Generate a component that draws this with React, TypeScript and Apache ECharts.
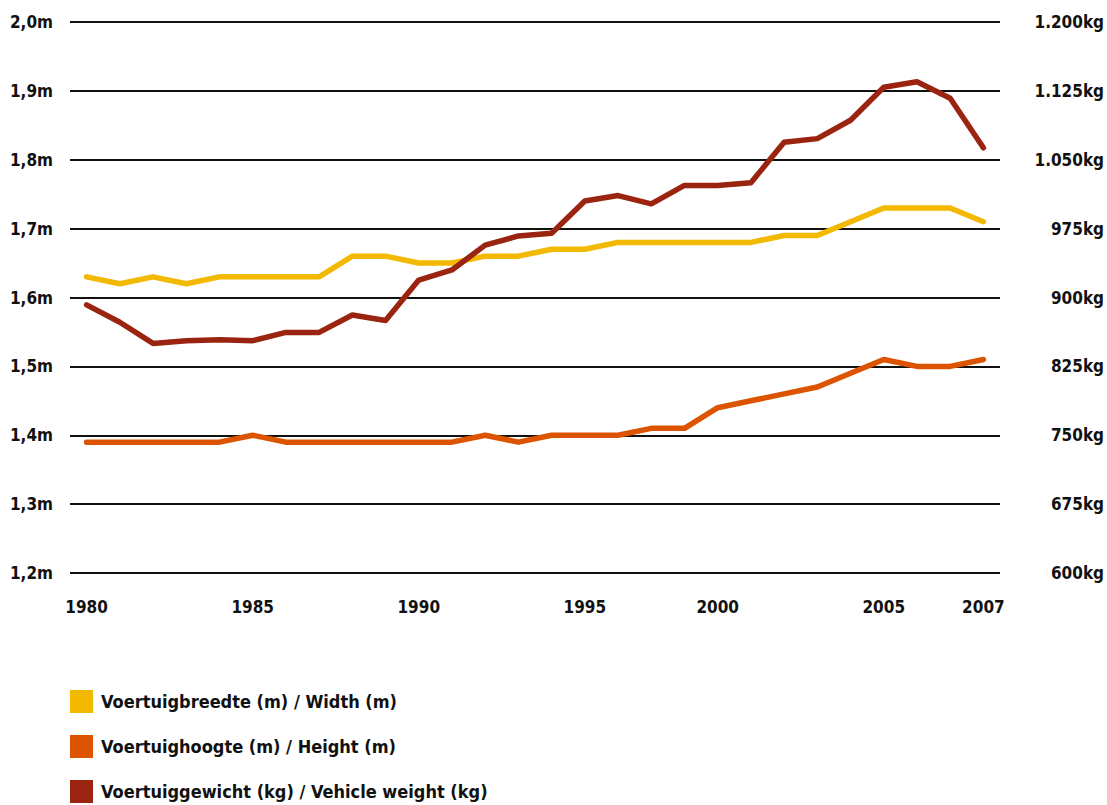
import React, { useEffect, useRef } from "react";
import * as echarts from "echarts";

const tickLabels = [
  "1980", "", "", "", "", "1985", "", "", "", "", "1990", "", "", "", "",
  "1995", "", "", "", "2000", "", "", "", "", "2005", "", "", "2007",
];

const widthM = [
  1.63, 1.62, 1.63, 1.62, 1.63, 1.63, 1.63, 1.63, 1.66, 1.66, 1.65, 1.65, 1.66, 1.66,
  1.67, 1.67, 1.68, 1.68, 1.68, 1.68, 1.68, 1.69, 1.69, 1.71, 1.73, 1.73, 1.73, 1.71,
];

const heightM = [
  1.39, 1.39, 1.39, 1.39, 1.39, 1.40, 1.39, 1.39, 1.39, 1.39, 1.39, 1.39, 1.40, 1.39,
  1.40, 1.40, 1.40, 1.41, 1.41, 1.44, 1.45, 1.46, 1.47, 1.49, 1.51, 1.50, 1.50, 1.51,
];

const weightKg = [
  892, 873, 850, 853, 854, 853, 862, 862, 881, 875, 919, 930, 957, 967,
  970, 1005, 1011, 1002, 1022, 1022, 1025, 1069, 1073, 1093, 1129, 1135, 1117, 1063,
];

const seriesNames = [
  "Voertuigbreedte (m) / Width (m)",
  "Voertuighoogte (m) / Height (m)",
  "Voertuiggewicht (kg) / Vehicle weight (kg)",
];

const colors = ["#F3B800", "#DC5400", "#9A2410"];

const FONT = "'DejaVu Sans Condensed', 'Liberation Sans Narrow', 'DejaVu Sans', sans-serif";

function fmtKg(v: number): string {
  const s = String(Math.round(v));
  return s.replace(/\B(?=(\d{3})+(?!\d))/g, ".") + "kg";
}

export default function App() {
  const ref = useRef<HTMLDivElement>(null);
  useEffect(() => {
    if (!ref.current) return;
    const chart = echarts.init(ref.current, null, { renderer: "svg" });
    const lineStyle = (c: string) => ({ color: c, width: 5.5, cap: "round" as const, join: "round" as const });
    const axisFont = { fontFamily: FONT, fontSize: 17, fontWeight: "bold" as const, color: "#111" };
    chart.setOption({
      animation: false,
      backgroundColor: "#ffffff",
      textStyle: { fontFamily: FONT },
      grid: { left: 70, right: 106, top: 22, bottom: 232, containLabel: false },
      legend: {
        orient: "vertical",
        left: 70,
        top: 690,
        height: 115,
        padding: 0,
        itemWidth: 23,
        itemHeight: 23,
        itemGap: 22,
        icon: "rect",
        selectedMode: false,
        data: seriesNames.map((n, i) => ({ name: n, itemStyle: { color: colors[i] } })),
        textStyle: { fontFamily: FONT, fontSize: 18, fontWeight: "bold", color: "#111", padding: [0, 0, 0, 3] },
      },
      xAxis: {
        type: "category",
        data: tickLabels,
        boundaryGap: true,
        axisLine: { show: false },
        axisTick: { show: false },
        axisLabel: { interval: 0, margin: 25, ...axisFont },
        splitLine: { show: false },
      },
      yAxis: [
        {
          type: "value",
          min: 1.2,
          max: 2.0,
          interval: 0.1,
          axisLine: { show: false },
          axisTick: { show: false },
          axisLabel: {
            margin: 17,
            ...axisFont,
            formatter: (v: number) => v.toFixed(1).replace(".", ",") + "m",
          },
          splitLine: { show: true, lineStyle: { color: "#111", width: 2 } },
        },
        {
          type: "value",
          min: 600,
          max: 1200,
          interval: 75,
          axisLine: { show: false },
          axisTick: { show: false },
          axisLabel: {
            margin: 104,
            align: "right",
            ...axisFont,
            formatter: (v: number) => fmtKg(v),
          },
          splitLine: { show: false },
        },
      ],
      series: [
        {
          name: seriesNames[0],
          type: "line",
          yAxisIndex: 0,
          data: widthM,
          symbol: "none",
          color: colors[0],
          lineStyle: lineStyle(colors[0]),
          z: 2,
        },
        {
          name: seriesNames[1],
          type: "line",
          yAxisIndex: 0,
          data: heightM,
          symbol: "none",
          color: colors[1],
          lineStyle: lineStyle(colors[1]),
          z: 3,
        },
        {
          name: seriesNames[2],
          type: "line",
          yAxisIndex: 1,
          data: weightKg,
          symbol: "none",
          color: colors[2],
          lineStyle: lineStyle(colors[2]),
          z: 4,
        },
      ],
    });
    return () => chart.dispose();
  }, []);
  return (
    <div
      ref={ref}
      style={{ position: "fixed", left: 0, top: 0, width: 1107, height: 805, background: "#fff" }}
    />
  );
}
